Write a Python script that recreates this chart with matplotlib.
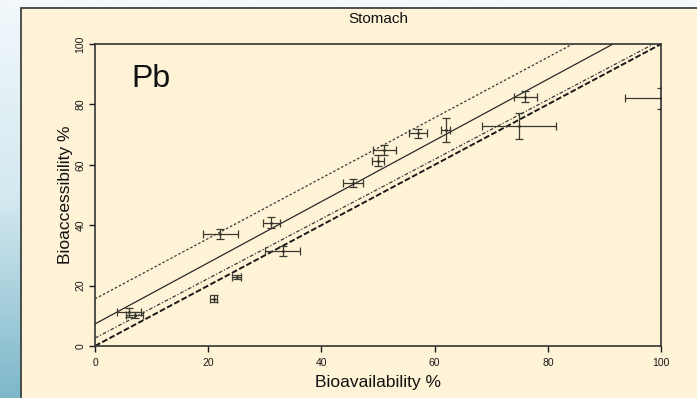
import matplotlib.pyplot as plt
import matplotlib.patches as patches
from matplotlib.colors import LinearSegmentedColormap
import numpy as np

plt.rcParams['font.family'] = ['Liberation Sans', 'DejaVu Sans']

# measured points: bioavailability (x) vs bioaccessibility (y)
bioavail = [6.0, 7.0, 21.0, 25.0, 22.1, 31.1, 33.2, 45.6, 50.0, 51.1, 57.1, 62.0, 76.0, 74.9, 100.0]
bioacc = [11.2, 10.3, 15.6, 22.9, 37.1, 40.8, 31.5, 54.0, 61.3, 64.9, 70.5, 71.5, 82.5, 72.8, 82.0]
bioavail_err = [2.2, 1.5, 0.6, 0.8, 3.1, 1.5, 3.1, 1.7, 1.0, 2.0, 1.6, 0.8, 2.0, 6.5, 6.4]
bioacc_err = [1.5, 1.0, 1.2, 0.6, 1.8, 1.8, 1.6, 1.2, 1.8, 1.7, 1.5, 4.0, 1.8, 4.2, 3.6]

# regression line and prediction band (intercept, slope)
fit_line = (7.3, 1.013)
upper_band = (15.6, 1.0)
lower_band = (2.6, 0.987)
one_to_one = (0.0, 1.0)

fig = plt.figure(figsize=(6.97, 3.98), dpi=100)

# slide-like background: blue gradient and beige panel
bg = fig.add_axes([0, 0, 1, 1], zorder=-10)
grad = np.linspace(0, 1, 256)[:, None] * np.ones((1, 2))
cmap = LinearSegmentedColormap.from_list('slide', ['#f2f8fc', '#d3e9f0', '#7db7c9'])
bg.imshow(grad, aspect='auto', cmap=cmap, extent=[0, 1, 0, 1], origin='upper')
bg.set_xlim(0, 1)
bg.set_ylim(0, 1)
bg.axis('off')
bg.add_patch(patches.Rectangle((0.0301, -0.01), 1.0, 0.99, facecolor='#fef3d6',
                               edgecolor='#333333', linewidth=1.2))

ax = fig.add_axes([0.1363, 0.1307, 0.8121, 0.7587])
ax.set_facecolor('#fef3d6')

xs = np.array([0, 100])
for (b0, b1), style in [(upper_band, dict(ls=(0, (2, 1.6)), lw=0.9, color='#3a3a3a')),
                        (fit_line, dict(ls='-', lw=0.9, color='#2a2a2a')),
                        (lower_band, dict(ls=(0, (3, 1.5, 1, 1.5)), lw=0.9, color='#3a3a3a')),
                        (one_to_one, dict(ls=(0, (3, 1.2)), lw=1.4, color='#1a1a1a'))]:
    ax.plot(xs, b0 + b1 * xs, **style)

ax.errorbar(bioavail, bioacc, xerr=bioavail_err, yerr=bioacc_err, fmt='.', ms=2,
            color='#333328', ecolor='#3a3a30', elinewidth=0.9, capsize=3, capthick=0.9)

ax.set_xlim(0, 100)
ax.set_ylim(0, 100)
ax.set_xticks([0, 20, 40, 60, 80, 100])
ax.set_yticks([0, 20, 40, 60, 80, 100])
ax.tick_params(direction='out', length=4, width=1, colors='#1a1a1a', labelsize=7.5, pad=5)
ax.tick_params(axis='y', pad=3)
for lab in ax.get_yticklabels():
    lab.set_rotation(90)
    lab.set_va('center')
for sp in ax.spines.values():
    sp.set_linewidth(1.2)
    sp.set_color('#333333')

ax.text(6.5, 85.8, 'Pb', fontsize=23, color='#111111')
ax.set_title('Stomach', fontsize=11, pad=15, color='#111111')
ax.set_xlabel('Bioavailability %', fontsize=12.5, labelpad=5, color='#111111')
ax.set_ylabel('Bioaccessibility %', fontsize=12.5, labelpad=2, color='#111111')

fig.savefig('out.png', dpi=100)
